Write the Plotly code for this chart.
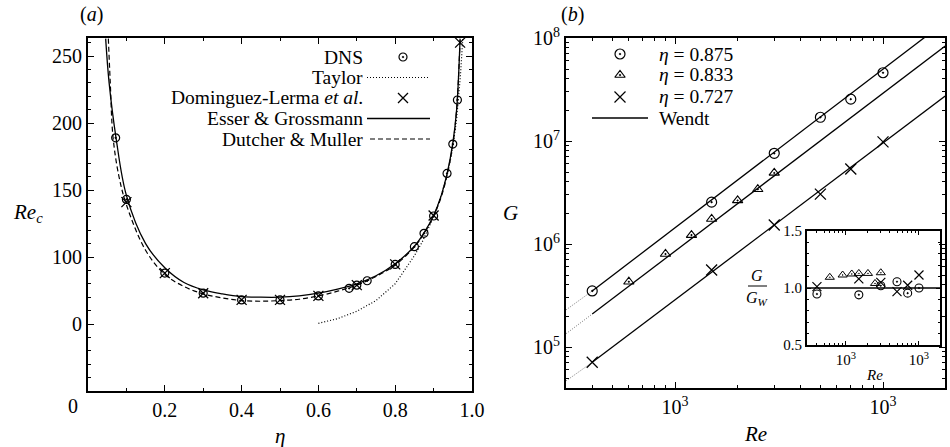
import plotly.graph_objects as go

W, H = 950, 447
def PX(x): return x / W
def PY(y): return 1 - y / H

FONT = "'Liberation Serif', 'Times New Roman', Times, serif"

# ---------------- panel (a) data ----------------
dns_eta = [0.072, 0.1, 0.2, 0.3, 0.4, 0.5, 0.6, 0.68, 0.7, 0.727, 0.8, 0.85, 0.875, 0.9, 0.935, 0.95, 0.962]
dns_re = [189, 143, 88, 73, 68, 68, 71, 76.6, 79, 82.3, 94.5, 107.7, 117.7, 130.6, 162.4, 184.3, 217.2]
dl_eta = [0.1, 0.2, 0.3, 0.4, 0.5, 0.6, 0.7, 0.8, 0.9, 0.969]
dl_re = [141, 88, 73, 68, 68, 71, 79, 94.5, 131, 260]
eg_eta = [0.046, 0.055, 0.073, 0.1, 0.15, 0.2, 0.25, 0.3, 0.35, 0.4, 0.45, 0.5, 0.55, 0.6, 0.65, 0.7,
          0.75, 0.8, 0.85, 0.875, 0.9, 0.92, 0.935, 0.95, 0.96, 0.969]
eg_re = [263, 230, 189, 146, 110, 92, 81, 75.5, 72.5, 70.5, 70, 70, 71, 73, 76, 80,
         86, 95, 108, 118, 131, 146, 162, 185, 210, 263]
dm_eta = [0.053, 0.058, 0.065, 0.08, 0.1, 0.15, 0.2, 0.25, 0.3, 0.35, 0.4, 0.45, 0.5, 0.55, 0.6, 0.65,
          0.7, 0.75, 0.8, 0.85, 0.875, 0.9, 0.92, 0.935, 0.95, 0.96, 0.969]
dm_re = [263, 230, 190, 161, 139, 105, 87, 78, 72.5, 69.5, 67.5, 67, 67.5, 68.5, 71, 74.5,
         79, 85.5, 94, 107.5, 117.5, 130.5, 145, 161, 184, 210, 263]
ty_eta = [0.6, 0.65, 0.7, 0.75, 0.8, 0.85, 0.87, 0.9, 0.92, 0.94, 0.95, 0.96, 0.97, 0.976]
ty_re = [50.5, 54, 59.5, 67.5, 80, 101, 111, 130, 146, 167, 182, 203, 236, 263]

a_ytick_vals = [50, 100, 150, 200, 250]
a_ytick_text = ["0", "100", "150", "200", "250"]
a_xtick_vals = [0.2, 0.4, 0.6, 0.8, 1.0]
a_xtick_text = ["0.2", "0.4", "0.6", "0.8", "1.0"]

# ---------------- panel (b) data ----------------
re_875 = [400, 1500, 3000, 5000, 7000, 10000]
g_875 = [3.5e5, 2.55e6, 7.6e6, 1.7e7, 2.55e7, 4.6e7]
re_833 = [600, 900, 1200, 1500, 2000, 2500, 3000]
g_833 = [4.3e5, 8.0e5, 1.22e6, 1.75e6, 2.65e6, 3.4e6, 4.9e6]
re_727 = [400, 1500, 3000, 5000, 7000, 10000]
g_727 = [7.1e4, 5.6e5, 1.53e6, 3.05e6, 5.35e6, 9.8e6]

wendt_re_875 = [400, 10000, 20000]
wendt_g_875 = [3.5e5, 5.0e7, 1.45e8]
wendt_re_833 = [400, 19900]
wendt_g_833 = [2.09e5, 8.36e7]
wendt_re_727 = [400, 19900]
wendt_g_727 = [7.1e4, 2.73e7]
wext_re = [300, 400]
wext_g_875 = [2.3e5, 3.5e5]
wext_g_833 = [1.35e5, 2.09e5]
wext_g_727 = [4.7e4, 7.1e4]

# inset: G / G_W
in_re_875 = [400, 1500, 3000, 5000, 7000, 10000]
in_r_875 = [0.947, 0.94, 1.02, 1.055, 0.955, 1.0]
in_re_833 = [600, 900, 1200, 1500, 2000, 2500, 3000]
in_r_833 = [1.094, 1.114, 1.123, 1.128, 1.128, 1.04, 1.134]
in_re_727 = [400, 1500, 3000, 5000, 7000, 10000]
in_r_727 = [1.012, 1.08, 1.05, 0.968, 1.024, 1.114]

b_xtick_vals = [1e3, 1e4]
b_xtick_text = ["10<sup>3</sup>", "10<sup>3</sup>"]
b_ytick_vals = [1e5, 1e6, 1e7, 1e8]
b_ytick_text = ["10<sup>5</sup>", "10<sup>6</sup>", "10<sup>7</sup>", "10<sup>8</sup>"]
in_ytick_vals = [0.5, 1.0, 1.5]
in_ytick_text = ["0.5", "1.0", "1.5"]

log_minor = [m * 10 ** k for k in range(2, 9) for m in range(2, 10)]

fig = go.Figure()
BLACK = "black"

# ---- panel (a) traces
fig.add_trace(go.Scatter(x=ty_eta, y=ty_re, mode="lines", line=dict(color=BLACK, width=1.2, dash="1px,2px"),
                         xaxis="x", yaxis="y"))
fig.add_trace(go.Scatter(x=dm_eta, y=dm_re, mode="lines", line=dict(color=BLACK, width=1.2, dash="5px,3px"),
                         line_shape="spline", xaxis="x", yaxis="y"))
fig.add_trace(go.Scatter(x=eg_eta, y=eg_re, mode="lines", line=dict(color=BLACK, width=1.3),
                         line_shape="spline", xaxis="x", yaxis="y"))
fig.add_trace(go.Scatter(x=dns_eta, y=dns_re, mode="markers",
                         marker=dict(symbol="circle-open-dot", size=8, color=BLACK, line=dict(width=1.2)),
                         xaxis="x", yaxis="y"))
fig.add_trace(go.Scatter(x=dl_eta, y=dl_re, mode="markers",
                         marker=dict(symbol="x-thin-open", size=10, color=BLACK, line=dict(width=1.3, color=BLACK)),
                         xaxis="x", yaxis="y"))

# ---- panel (b) traces
for rr, gg in [(wext_re, wext_g_875), (wext_re, wext_g_833), (wext_re, wext_g_727)]:
    fig.add_trace(go.Scatter(x=rr, y=gg, mode="lines", line=dict(color="#777", width=1, dash="1px,1.5px"),
                             xaxis="x2", yaxis="y2"))
for rr, gg in [(wendt_re_875, wendt_g_875), (wendt_re_833, wendt_g_833), (wendt_re_727, wendt_g_727)]:
    fig.add_trace(go.Scatter(x=rr, y=gg, mode="lines", line=dict(color=BLACK, width=1.3),
                             xaxis="x2", yaxis="y2"))
fig.add_trace(go.Scatter(x=re_875, y=g_875, mode="markers",
                         marker=dict(symbol="circle-open-dot", size=10, color=BLACK, line=dict(width=1.2)),
                         xaxis="x2", yaxis="y2"))
fig.add_trace(go.Scatter(x=re_833, y=g_833, mode="markers",
                         marker=dict(symbol="triangle-up-open-dot", size=9, color=BLACK, line=dict(width=1.1)),
                         xaxis="x2", yaxis="y2"))
fig.add_trace(go.Scatter(x=re_727, y=g_727, mode="markers",
                         marker=dict(symbol="x-thin-open", size=11, color=BLACK, line=dict(width=1.3, color=BLACK)),
                         xaxis="x2", yaxis="y2"))

# ---- inset traces
fig.add_trace(go.Scatter(x=in_re_875, y=in_r_875, mode="markers",
                         marker=dict(symbol="circle-open-dot", size=8, color=BLACK, line=dict(width=1.1)),
                         xaxis="x3", yaxis="y3"))
fig.add_trace(go.Scatter(x=in_re_833, y=in_r_833, mode="markers",
                         marker=dict(symbol="triangle-up-open-dot", size=8, color=BLACK, line=dict(width=1.0)),
                         xaxis="x3", yaxis="y3"))
fig.add_trace(go.Scatter(x=in_re_727, y=in_r_727, mode="markers",
                         marker=dict(symbol="x-thin-open", size=9, color=BLACK, line=dict(width=1.2, color=BLACK)),
                         xaxis="x3", yaxis="y3"))

# ---- legend samples on a full-page helper axis
leg_a_x = 403
leg_a_rows = [57, 77.5, 98, 118.5, 139]
fig.add_trace(go.Scatter(x=[PX(leg_a_x)], y=[PY(leg_a_rows[0])], mode="markers",
                         marker=dict(symbol="circle-open-dot", size=8, color=BLACK, line=dict(width=1.2)),
                         xaxis="x4", yaxis="y4", cliponaxis=False))
fig.add_trace(go.Scatter(x=[PX(leg_a_x)], y=[PY(leg_a_rows[2])], mode="markers",
                         marker=dict(symbol="x-thin-open", size=10, color=BLACK, line=dict(width=1.3, color=BLACK)),
                         xaxis="x4", yaxis="y4", cliponaxis=False))
leg_b_x = 620
leg_b_rows = [54, 75, 97, 118]
for sym, sz, row in [("circle-open-dot", 10, 0), ("triangle-up-open-dot", 9, 1), ("x-thin-open", 11, 2)]:
    fig.add_trace(go.Scatter(x=[PX(leg_b_x)], y=[PY(leg_b_rows[row])], mode="markers",
                             marker=dict(symbol=sym, size=sz, color=BLACK, line=dict(width=1.2, color=BLACK)),
                             xaxis="x4", yaxis="y4", cliponaxis=False))

shapes = []
def hline(x0, x1, y, dash="solid", width=1.3, color=BLACK):
    shapes.append(dict(type="line", xref="paper", yref="paper", x0=PX(x0), x1=PX(x1), y0=PY(y), y1=PY(y),
                       line=dict(color=color, width=width, dash=dash)))
hline(367, 430, leg_a_rows[1], dash="1px,2px", width=1.2)
hline(367, 430, leg_a_rows[3])
hline(370, 430, leg_a_rows[4], dash="5px,3px", width=1.2)
hline(592, 648, leg_b_rows[3])
# fraction bar in inset label
hline(748, 767, 286, width=1)
# inset reference line G/G_W = 1
shapes.append(dict(type="line", xref="x3 domain", yref="y3", x0=0, x1=1, y0=1, y1=1,
                   line=dict(color=BLACK, width=1.3)))

ann = []
def text(x, y, s, size=20, xanchor="center"):
    ann.append(dict(x=PX(x), y=PY(y), xref="paper", yref="paper", text=s, showarrow=False,
                    xanchor=xanchor, yanchor="middle", font=dict(family=FONT, size=size, color=BLACK)))

text(91, 15, "(<i>a</i>)")
text(572, 15, "(<i>b</i>)")
text(28, 213, "<i>Re</i><sub><i>c</i></sub>", size=21)
text(280, 436, "<i>η</i>", size=21)
text(510, 213, "<i>G</i>", size=21)
text(755, 434, "<i>Re</i>", size=21)
text(73, 406, "0")
leg_a_text = ["DNS", "Taylor", "Dominguez-Lerma <i>et al</i>.", "Esser &amp; Grossmann", "Dutcher &amp; Muller"]
for t, r in zip(leg_a_text, leg_a_rows):
    text(365, r, t, size=19.5, xanchor="right")
leg_b_text = ["<i>η</i> = 0.875", "<i>η</i> = 0.833", "<i>η</i> = 0.727", "Wendt"]
for t, r in zip(leg_b_text, leg_b_rows):
    text(657, r, t, size=19.5, xanchor="left")
text(757, 275, "<i>G</i>", size=16)
text(757, 298, "<i>G</i><sub><i>W</i></sub>", size=16)
text(874, 375, "<i>Re</i>", size=15)

def axis_common(**kw):
    d = dict(showline=True, linewidth=2, linecolor=BLACK, mirror="allticks", ticks="inside",
             ticklen=6, tickwidth=1.2, tickcolor=BLACK, showgrid=False, zeroline=False,
             tickfont=dict(family=FONT, size=20, color=BLACK), automargin=False, fixedrange=True)
    d.update(kw)
    return d

layout = dict(
    width=W, height=H, margin=dict(l=0, r=0, t=0, b=0),
    font=dict(family=FONT, color=BLACK),
    paper_bgcolor="white", plot_bgcolor="rgba(0,0,0,0)", showlegend=False,
    xaxis=axis_common(domain=[PX(88), PX(472)], range=[0, 1.0], anchor="y",
                      tickmode="array", tickvals=a_xtick_vals, ticktext=a_xtick_text,
                      minor=dict(ticks="inside", ticklen=3, tickwidth=1, tickcolor=BLACK, dtick=0.1, tick0=0)),
    yaxis=axis_common(domain=[PY(391), PY(37.7)], range=[0, 263.7], anchor="x",
                      tickmode="array", tickvals=a_ytick_vals, ticktext=a_ytick_text,
                      minor=dict(ticks="inside", ticklen=3, tickwidth=1, tickcolor=BLACK, dtick=10, tick0=0)),
    xaxis2=axis_common(type="log", domain=[PX(566), PX(945)], range=[2.476, 4.298], anchor="y2",
                       tickmode="array", tickvals=b_xtick_vals, ticktext=b_xtick_text,
                       minor=dict(ticks="inside", ticklen=3, tickwidth=1, tickcolor=BLACK,
                                  tickmode="array", tickvals=log_minor)),
    yaxis2=axis_common(type="log", domain=[PY(388), PY(38)], range=[4.602, 8.0], anchor="x2",
                       tickmode="array", tickvals=b_ytick_vals, ticktext=b_ytick_text,
                       minor=dict(ticks="inside", ticklen=3, tickwidth=1, tickcolor=BLACK,
                                  tickmode="array", tickvals=log_minor)),
    xaxis3=axis_common(type="log", domain=[PX(807), PX(940)], range=[2.466, 4.288], anchor="y3",
                       tickmode="array", tickvals=b_xtick_vals, ticktext=b_xtick_text, ticklen=4,
                       tickfont=dict(family=FONT, size=15, color=BLACK),
                       minor=dict(ticks="inside", ticklen=2, tickwidth=1, tickcolor=BLACK,
                                  tickmode="array", tickvals=log_minor)),
    yaxis3=axis_common(domain=[PY(345), PY(231)], range=[0.5, 1.5], anchor="x3", ticklen=4,
                       tickmode="array", tickvals=in_ytick_vals, ticktext=in_ytick_text,
                       tickfont=dict(family=FONT, size=15, color=BLACK),
                       minor=dict(ticks="inside", ticklen=2, tickwidth=1, tickcolor=BLACK, dtick=0.1, tick0=0)),
    xaxis4=dict(domain=[0, 1], range=[0, 1], visible=False, anchor="y4", fixedrange=True),
    yaxis4=dict(domain=[0, 1], range=[0, 1], visible=False, anchor="x4", fixedrange=True),
    shapes=shapes, annotations=ann,
)
fig.update_layout(**layout)
fig.write_html("out.html")
